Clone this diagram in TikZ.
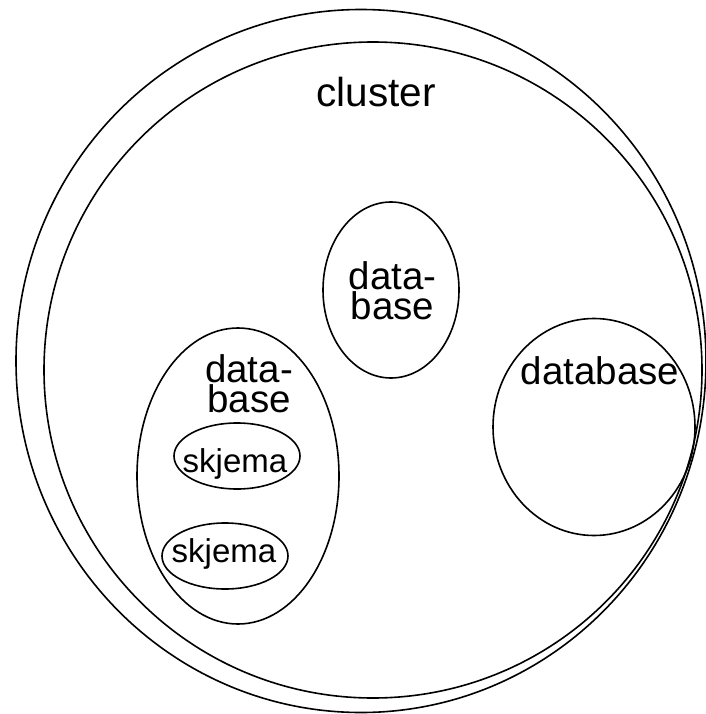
\documentclass[tikz,border=0pt]{standalone}
\usepackage{fontspec}
\setmainfont{Liberation Sans}
\begin{document}
\begin{tikzpicture}[x=1pt,y=-1pt,
  shapeline/.style={draw=black, line width=1.6pt},
  bigtext/.style={inner sep=0pt, anchor=base, font=\fontsize{38.5}{38.5}\selectfont},
  twoline/.style={inner sep=0pt, anchor=south, align=center, font=\fontsize{38.5}{29.5}\selectfont},
  clustertext/.style={inner sep=0pt, anchor=base, font=\fontsize{40.5}{40.5}\selectfont},
  smalltext/.style={inner sep=0pt, anchor=base, font=\fontsize{33}{33}\selectfont}]
\useasboundingbox (0,0) rectangle (705,714);
% cluster
\draw[shapeline] (361,361) ellipse [x radius=345, y radius=351.5];
\draw[shapeline] (373,370) ellipse [x radius=329, y radius=328];
\node[clustertext] (cl) at (376,107) {cluster};
% middle database
\draw[shapeline] (391,290) ellipse [x radius=68, y radius=88];
\node[twoline] (m) at (392.5,320) {data-\\base};
% right database
\draw[shapeline] (594,427) ellipse [x radius=101, y radius=108.5];
\node[bigtext] (r1) at (600,384) {database};
% left database
\draw[shapeline] (238,476) ellipse [x radius=101, y radius=148];
\node[twoline] (l) at (249,413) {data-\\base};
% schemas
\draw[shapeline] (237,456) ellipse [x radius=63, y radius=33];
\node[smalltext] (s1) at (235,472) {skjema};
\draw[shapeline] (225,556) ellipse [x radius=63, y radius=33];
\node[smalltext] (s2) at (224,562) {skjema};
\end{tikzpicture}
\end{document}
